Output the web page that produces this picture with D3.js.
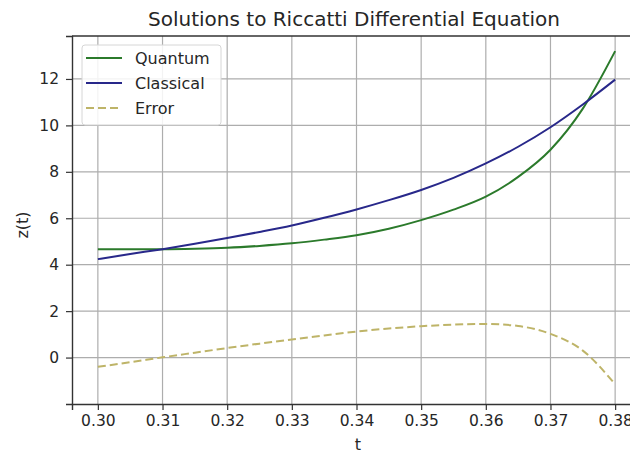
<!DOCTYPE html>
<html>
<head>
<meta charset="utf-8">
<script src="https://cdn.jsdelivr.net/npm/d3@7"></script>
<style>
  body { margin: 0; background: #fff; }
  text { font-family: "DejaVu Sans", sans-serif; fill: #262626; }
</style>
</head>
<body>
<div id="chart"></div>
<script>
// values, t = 0.300 .. 0.380 every 0.005
const tValues = [0.300, 0.305, 0.310, 0.315, 0.320, 0.325, 0.330, 0.335, 0.340,
  0.345, 0.350, 0.355, 0.360, 0.365, 0.370, 0.375, 0.380];
const quantum = [4.67, 4.67, 4.67, 4.69, 4.73, 4.81, 4.92, 5.08, 5.27,
  5.55, 5.92, 6.37, 6.93, 7.78, 8.95, 10.72, 13.2];
const classical = [4.24, 4.46, 4.67, 4.90, 5.15, 5.41, 5.69, 6.02, 6.38,
  6.78, 7.22, 7.74, 8.36, 9.08, 9.92, 10.90, 11.97];
const errorVals = [-0.40, -0.20, 0.01, 0.21, 0.41, 0.60, 0.78, 0.95, 1.12,
  1.25, 1.35, 1.42, 1.45, 1.36, 1.02, 0.30, -1.15];

const xTicks = [0.30, 0.31, 0.32, 0.33, 0.34, 0.35, 0.36, 0.37, 0.38];
const yTicks = [0, 2, 4, 6, 8, 10, 12];

const seriesNames = ["Quantum", "Classical", "Error"];
const seriesColors = ["#2b7a2b", "#28288a", "#beb468"];

const width = 630,
  height = 453;
const margin = { top: 36, left: 72, bottom: 49, right: -11 };

const svg = d3.select("#chart").append("svg")
  .attr("width", width)
  .attr("height", height)
  .style("display", "block");

const x = d3.scaleLinear()
  .domain([0.296, 0.384])
  .range([margin.left, width - margin.right]);

const y = d3.scaleLinear()
  .domain([-2.0, 13.85])
  .range([height - margin.bottom, margin.top]);

// grid
svg.append("g")
  .selectAll("line")
  .data(xTicks)
  .join("line")
  .attr("x1", d => x(d)).attr("x2", d => x(d))
  .attr("y1", y.range()[0]).attr("y2", y.range()[1])
  .attr("stroke", "#adadad")
  .attr("stroke-width", 1.2);

svg.append("g")
  .selectAll("line")
  .data(yTicks)
  .join("line")
  .attr("x1", x.range()[0]).attr("x2", x.range()[1])
  .attr("y1", d => y(d)).attr("y2", d => y(d))
  .attr("stroke", "#adadad")
  .attr("stroke-width", 1.2);

// axes
const xAxis = svg.append("g")
  .attr("transform", `translate(0,${height - margin.bottom})`)
  .call(d3.axisBottom(x).tickValues(xTicks).tickFormat(d3.format(".2f")).tickSize(6).tickPadding(5));

const yAxis = svg.append("g")
  .attr("transform", `translate(${margin.left},0)`)
  .call(d3.axisLeft(y).tickValues(yTicks).tickSize(6).tickPadding(7));

[xAxis, yAxis].forEach(g => {
  g.select(".domain").attr("stroke", "#333").attr("stroke-width", 1.4);
  g.selectAll(".tick line").attr("stroke", "#333").attr("stroke-width", 1.2);
  g.selectAll(".tick text").style("font-size", "15.5px").attr("fill", "#262626")
    .style("font-family", "DejaVu Sans, sans-serif");
});

// top spine (right one falls outside the picture)
svg.append("line")
  .attr("x1", x.range()[0]).attr("x2", x.range()[1])
  .attr("y1", y.range()[1]).attr("y2", y.range()[1])
  .attr("stroke", "#333")
  .attr("stroke-width", 1.4);

// lines
const line = d3.line()
  .x((d, i) => x(tValues[i]))
  .y(d => y(d))
  .curve(d3.curveMonotoneX);

const allSeries = [quantum, classical, errorVals];

svg.append("g")
  .selectAll("path")
  .data(allSeries)
  .join("path")
  .attr("d", line)
  .attr("fill", "none")
  .attr("stroke", (d, i) => seriesColors[i])
  .attr("stroke-width", 2)
  .attr("stroke-dasharray", (d, i) => i == 2 ? "8,4" : null);

// title and labels
svg.append("text")
  .attr("x", 354)
  .attr("y", 26)
  .attr("text-anchor", "middle")
  .style("font-size", "20px")
  .text("Solutions to Riccatti Differential Equation");

svg.append("text")
  .attr("x", 358)
  .attr("y", 450)
  .attr("text-anchor", "middle")
  .style("font-size", "16px")
  .text("t");

svg.append("text")
  .attr("transform", "translate(28,225) rotate(-90)")
  .attr("text-anchor", "middle")
  .style("font-size", "16px")
  .text("z(t)");

// legend
const legend = svg.append("g");

legend.append("rect")
  .attr("x", 82).attr("y", 45)
  .attr("width", 139).attr("height", 80)
  .attr("rx", 3)
  .attr("fill", "#fff")
  .attr("fill-opacity", 0.85)
  .attr("stroke", "#d6d6d6");

const item = legend.selectAll("g.item")
  .data(seriesNames)
  .join("g")
  .attr("class", "item")
  .attr("transform", (d, i) => `translate(0,${58 + i * 25})`);

item.append("line")
  .attr("x1", 86).attr("x2", 122)
  .attr("stroke", (d, i) => seriesColors[i])
  .attr("stroke-width", 2)
  .attr("stroke-dasharray", (d, i) => i == 2 ? "8,4" : null);

item.append("text")
  .attr("x", 135)
  .attr("dy", "0.35em")
  .style("font-size", "16px")
  .text(d => d);
</script>
</body>
</html>
